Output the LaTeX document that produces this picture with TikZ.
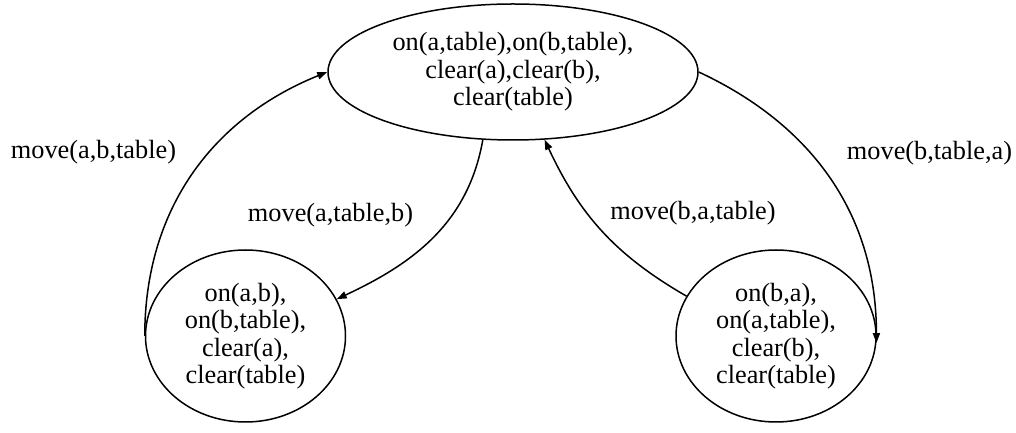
\documentclass[tikz,border=0pt]{standalone}
\usepackage{fontspec}
\setmainfont{Liberation Serif}
\usetikzlibrary{shapes.geometric,arrows.meta}

\begin{document}
\begin{tikzpicture}[x=50pt, y=50pt, line width=0.75pt,
    font=\fontsize{13.15pt}{13.75pt}\selectfont,
    state/.style={draw, ellipse, inner sep=0pt, align=center},
    arr/.style={-{Triangle[length=5pt,width=3.6pt]}}]
  \useasboundingbox (0,0) rectangle (10.16,4.33);

  % States
  \node[state, minimum width=185pt, minimum height=68pt] (init) at (5.13,3.61)
    {on(a,table),on(b,table),\\clear(a),clear(b),\\clear(table)};
  \node[state, minimum width=100pt, minimum height=86pt] (ab) at (2.455,0.97)
    {on(a,b),\\on(b,table),\\clear(a),\\clear(table)};
  \node[state, minimum width=100pt, minimum height=86pt] (ba) at (7.76,0.97)
    {on(b,a),\\on(a,table),\\clear(b),\\clear(table)};

  % Transitions
  \draw[arr] (init.246) to[out=-100,in=25] (ab.22);
  \draw[arr] (ba.156) to[out=150,in=-65] (init.295);
  \draw[arr] (ab.west) to[out=90,in=202] (init.west);
  \draw[arr] (init.east) to[out=-25,in=90] (ba.356);

  % Actions
  \node (mv_ab_t) at (0.935,2.81) {move(a,b,table)};
  \node (mv_a_tb) at (3.305,2.18) {move(a,table,b)};
  \node (mv_ba_t) at (6.93,2.20) {move(b,a,table)};
  \node (mv_b_ta) at (9.295,2.80) {move(b,table,a)};
\end{tikzpicture}
\end{document}
